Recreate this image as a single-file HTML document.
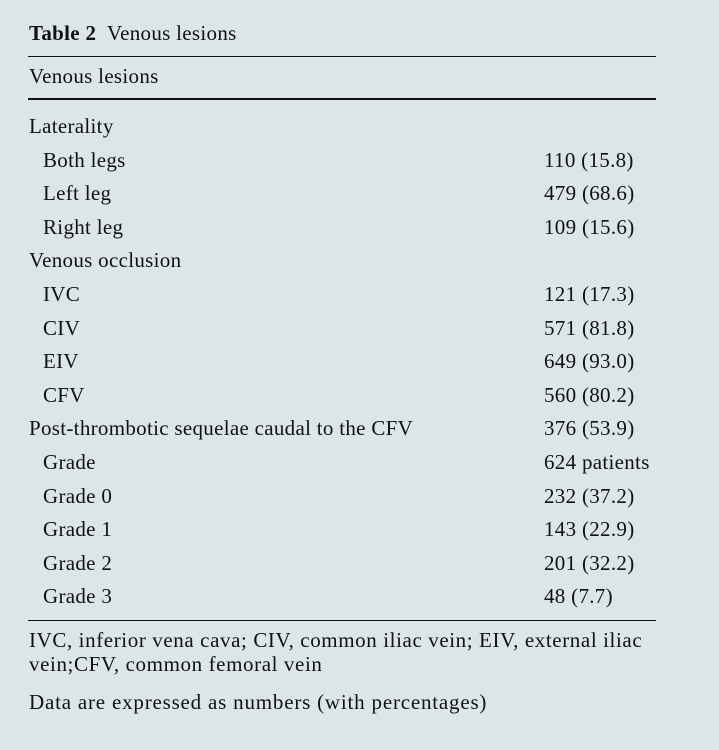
<!DOCTYPE html>
<html><head><meta charset="utf-8"><style>
body{margin:0;width:719px;height:750px;background:#dce6e8;font-family:"Liberation Serif",serif;color:#111;position:relative;overflow:hidden}
.t{position:absolute;font-size:21px;line-height:24px;white-space:nowrap;letter-spacing:0.3px}
.l{position:absolute;left:28px;width:628px;background:#111}
</style></head><body>
<div class="t" style="left:29px;top:21px"><b>Table 2</b>&nbsp; Venous lesions</div>
<div class="l" style="top:56px;height:1px"></div>
<div class="t" style="left:29px;top:64px">Venous lesions</div>
<div class="l" style="top:98px;height:2px"></div>
<div id="rows"></div>
<div class="l" style="top:620px;height:1px"></div>
<div class="t" style="left:29px;top:628px;white-space:normal;width:632px;letter-spacing:0.6px">IVC, inferior vena cava; CIV, common iliac vein; EIV, external iliac vein;CFV, common femoral vein</div>
<div class="t" style="left:29px;top:690px;letter-spacing:0.8px">Data are expressed as numbers (with percentages)</div>
<script>
const labels=["Laterality","Both legs","Left leg","Right leg","Venous occlusion","IVC","CIV","EIV","CFV","Post-thrombotic sequelae caudal to the CFV","Grade","Grade 0","Grade 1","Grade 2","Grade 3"];
const indent=[0,1,1,1,0,1,1,1,1,0,1,1,1,1,1];
const values=["","110 (15.8)","479 (68.6)","109 (15.6)","","121 (17.3)","571 (81.8)","649 (93.0)","560 (80.2)","376 (53.9)","624 patients","232 (37.2)","143 (22.9)","201 (32.2)","48 (7.7)"];
const c=document.getElementById('rows');
labels.forEach((s,i)=>{
 const top=114+i*33.6;
 const a=document.createElement('div');a.className='t';
 
 
 a.style.left=(indent[i]?43:29)+'px';a.style.top=top+'px';a.textContent=s;c.appendChild(a);
 if(values[i]){const b=document.createElement('div');b.className='t';
 
 
 b.style.left='544px';b.style.top=top+'px';b.textContent=values[i];c.appendChild(b);}
});
</script>
</body></html>
